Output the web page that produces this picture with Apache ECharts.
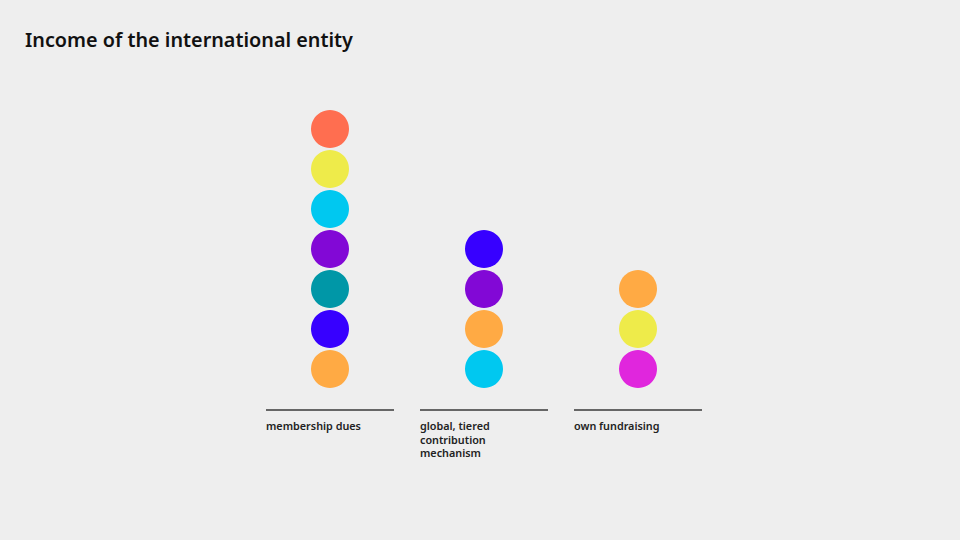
<!DOCTYPE html>
<html>
<head>
<meta charset="utf-8">
<script src="https://cdn.jsdelivr.net/npm/echarts@6/dist/echarts.min.js"></script>
<style>html,body{margin:0;padding:0;background:#eeeeee;}#c{width:960px;height:540px;}</style>
</head>
<body>
<div id="c"></div>
<script>
var titleText = 'Income of the international entity';
var categories = ['membership dues', 'global, tiered\ncontribution\nmechanism', 'own fundraising'];
// colours of the stacked circles in each column, bottom to top
var membershipDues = ['#ffaa44', '#3700ff', '#0097a7', '#8208d6', '#00c8f0', '#eeeb4a', '#ff6e50'];
var tieredContribution = ['#00c8f0', '#ffaa44', '#8208d6', '#3700ff'];
var ownFundraising = ['#e026dd', '#eeeb4a', '#ffaa44'];
var columns = [membershipDues, tieredContribution, ownFundraising];

var font = '"Noto Sans", "DejaVu Sans", sans-serif';
var points = [];
columns.forEach(function (cols, ci) {
  cols.forEach(function (col, k) {
    points.push({ value: [ci, k + 1], itemStyle: { color: col } });
  });
});

var chart = echarts.init(document.getElementById('c'), null, { renderer: 'svg' });
chart.setOption({
  backgroundColor: '#eeeeee',
  animation: false,
  title: {
    text: titleText, left: 20, top: 24,
    textStyle: { fontFamily: font, fontSize: 19.8, fontWeight: 600, color: '#111111' }
  },
  grid: { left: 253, width: 462, top: 89, height: 320 },
  xAxis: { type: 'category', data: categories, show: false, boundaryGap: true },
  yAxis: { type: 'value', min: 0, max: 8, show: false },
  series: [
    {
      type: 'scatter', data: points, symbol: 'circle', symbolSize: 38,
      itemStyle: { opacity: 1 }
    },
    {
      type: 'custom',
      data: categories.map(function (c, i) { return [i, 0]; }),
      renderItem: function (params, api) {
        var p = api.coord([api.value(0), 0]);
        var w = 128;
        var x0 = p[0] - w / 2;
        return {
          type: 'group',
          children: [
            { type: 'line', shape: { x1: x0, y1: p[1] + 1, x2: x0 + w, y2: p[1] + 1 },
              style: { stroke: '#666666', lineWidth: 2 } },
            { type: 'text', x: x0, y: p[1] + 10,
              style: { text: categories[params.dataIndex], fill: '#222222', font: '600 10.8px ' + font,
                       textAlign: 'left', textVerticalAlign: 'top', lineHeight: 13.5 } }
          ]
        };
      }
    }
  ]
});
</script>
</body>
</html>
